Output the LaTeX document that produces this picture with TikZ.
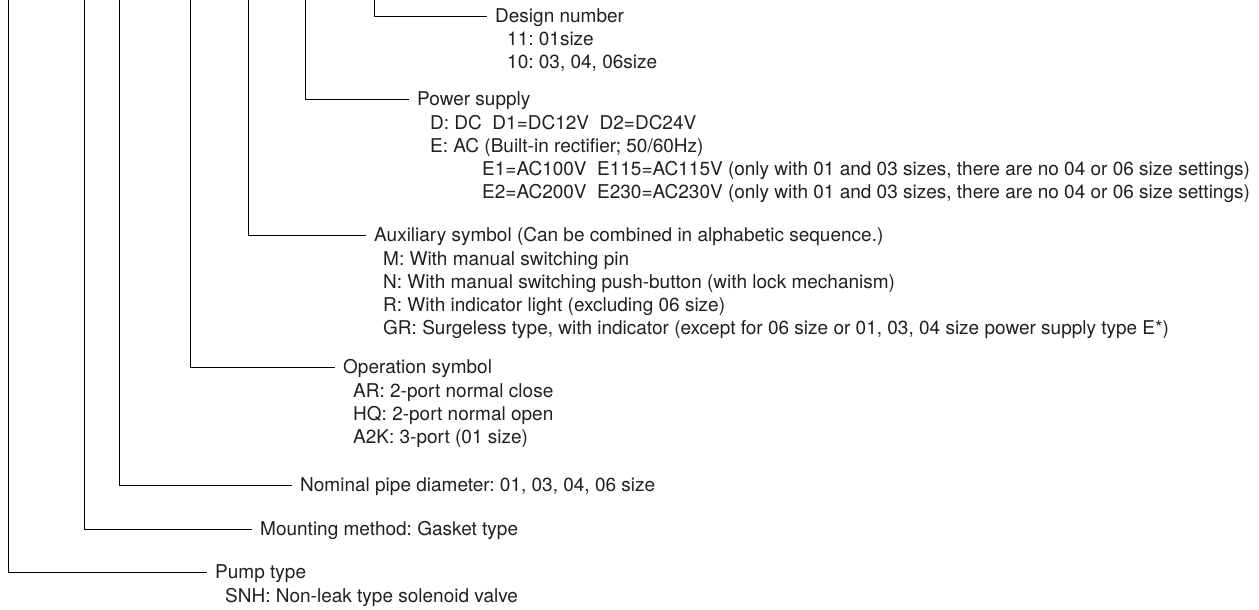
\documentclass[tikz,border=0pt]{standalone}
\usepackage{fontspec}
\setmainfont{TeX Gyre Heros}
\usetikzlibrary{positioning}
\frenchspacing

\definecolor{inkgray}{HTML}{231F20}

\tikzset{
    lead/.style={draw=black, line width=0.8pt},
    head/.style={anchor=west, inner xsep=8pt, inner ysep=0pt, text=inkgray,
        text height=13.7pt, text depth=0pt,
        font=\fontsize{19}{23}\selectfont},
    items/.style={anchor=north west, inner sep=0pt, align=left, text=inkgray,
        font=\fontsize{19}{23}\selectfont}
}

\begin{document}
\begin{tikzpicture}[x=1pt, y=-1pt]
    \useasboundingbox (0,0) rectangle (1259,610);

    % tops of the leader lines
    \coordinate (tpump)   at (8.5,0);
    \coordinate (tmount)  at (84.5,0);
    \coordinate (tnom)    at (119.5,0);
    \coordinate (top)     at (190.5,0);
    \coordinate (taux)    at (248,0);
    \coordinate (tpower)  at (305.5,0);
    \coordinate (tdesign) at (374,0);

    % headings
    \node[head] (design) at (487,16)  {Design number};
    \node[head] (power)  at (409,99)  {Power supply};
    \node[head] (aux)    at (366,235) {Auxiliary symbol (Can be combined in alphabetic sequence.)};
    \node[head] (oper)   at (335,367) {Operation symbol};
    \node[head] (nom)    at (292,485) {Nominal pipe diameter: 01, 03, 04, 06 size};
    \node[head] (mount)  at (252,529) {Mounting method: Gasket type};
    \node[head] (pump)   at (207,572) {Pump type};

    % item lists
    \node[items] (designit) at (507,32.2)  {11: 01size\\10: 03, 04, 06size};
    \node[items] (powerit)  at (430,115.2) {D: DC\ \ D1=DC12V\ \ D2=DC24V\\E: AC (Built-in rectifier; 50/60Hz)};
    \node[items] (powerac)  at (482,161.2) {E1=AC100V\ \ E115=AC115V (only with 01 and 03 sizes, there are no 04 or 06 size settings)\\
        E2=AC200V\ \ E230=AC230V (only with 01 and 03 sizes, there are no 04 or 06 size settings)};
    \node[items] (auxit)    at (383,251.2) {M: With manual switching pin\\
        N: With manual switching push-button (with lock mechanism)\\
        R: With indicator light (excluding 06 size)\\
        GR: Surgeless type, with indicator (except for 06 size or 01, 03, 04 size power supply type E*)};
    \node[items] (operit)   at (353,383.2) {AR: 2-port normal close\\HQ: 2-port normal open\\A2K: 3-port (01 size)};
    \node[items] (pumpit)   at (225,588.2) {SNH: Non-leak type solenoid valve};

    % leader lines
    \draw[lead] (tdesign) |- (design.west);
    \draw[lead] (tpower)  |- (power.west);
    \draw[lead] (taux)    |- (aux.west);
    \draw[lead] (top)     |- (oper.west);
    \draw[lead] (tnom)    |- (nom.west);
    \draw[lead] (tmount)  |- (mount.west);
    \draw[lead] (tpump)   |- (pump.west);
\end{tikzpicture}
\end{document}
